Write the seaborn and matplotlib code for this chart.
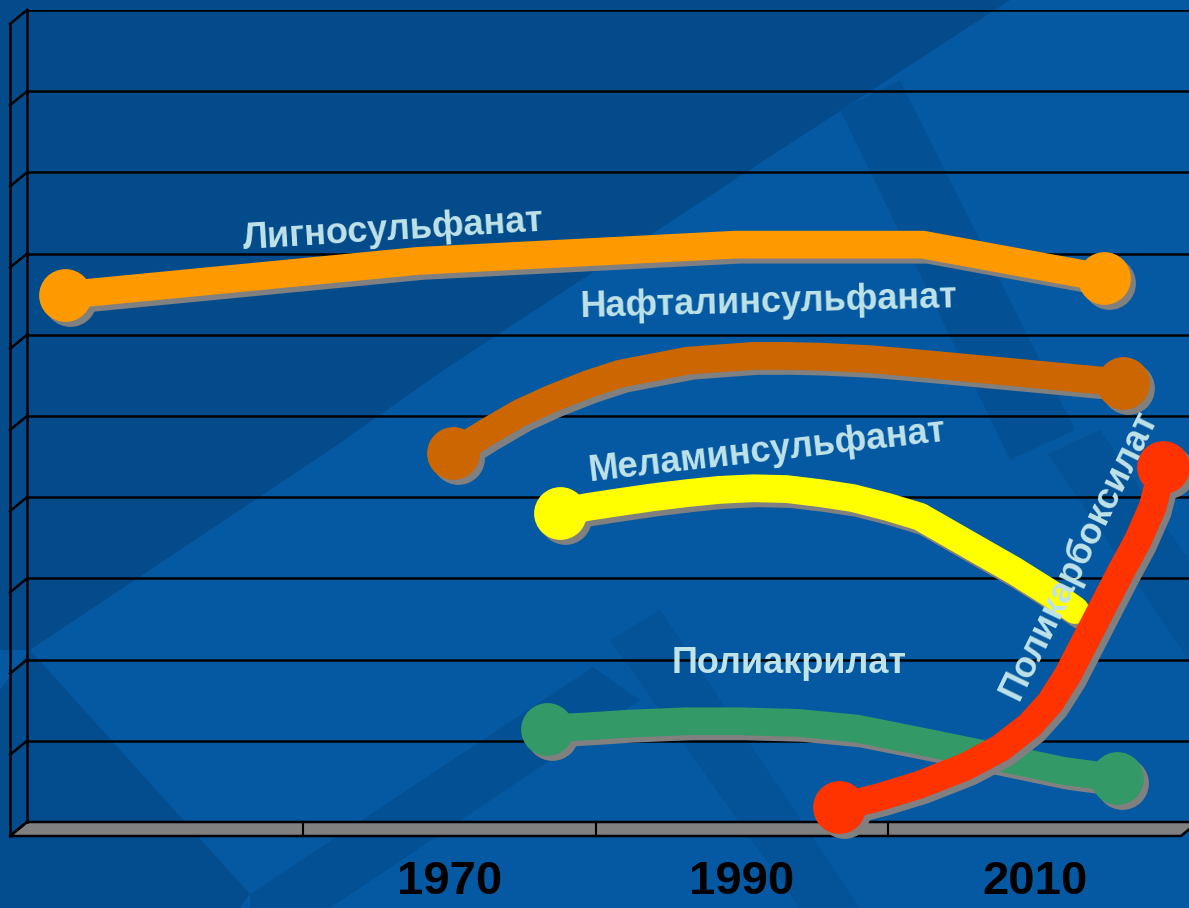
import matplotlib
matplotlib.use("Agg")
import matplotlib.pyplot as plt
import matplotlib.transforms as mtransforms
from matplotlib.patches import Polygon
import seaborn as sns

# category axis (first category has no label in the original)
cat_years = [1950, 1970, 1990, 2010]
cat_labels = ["", "1970", "1990", "2010"]

# series (year, relative level 0..10)
ligno_x = [1942.6, 1966.7, 1988.4, 2001.2, 2013.6]
ligno_y = [6.49, 6.91, 7.11, 7.11, 6.70]

nafta_x = [1969.1, 1971.4, 1973.7, 1975.9, 1978.3, 1980.5, 1982.8, 1985.1, 1987.3,
           1989.6, 1991.9, 1994.2, 1997.6, 2001.4, 2008.5, 2014.9]
nafta_y = [4.54, 4.80, 5.04, 5.22, 5.39, 5.52, 5.60, 5.68, 5.71,
           5.74, 5.74, 5.73, 5.70, 5.64, 5.52, 5.41]

melam_x = [1976.4, 1978.3, 1980.5, 1982.8, 1985.1, 1987.3, 1989.6, 1991.9, 1994.2,
           1996.4, 1998.8, 2001.0, 2004.0, 2007.4, 2010.4, 2011.6]
melam_y = [3.81, 3.88, 3.94, 4.00, 4.05, 4.09, 4.11, 4.10, 4.05,
           3.99, 3.88, 3.76, 3.45, 3.10, 2.76, 2.61]

polyacr_x = [1975.5, 1978.5, 1981.0, 1985.0, 1988.8, 1992.7, 1996.7, 2001.7, 2006.3, 2010.8, 2014.5]
polyacr_y = [1.15, 1.18, 1.21, 1.24, 1.24, 1.22, 1.15, 0.97, 0.80, 0.63, 0.54]

polycarb_x = [1995.5, 1998.3, 2001.0, 2004.1, 2006.5, 2008.5, 2009.9, 2011.1, 2012.3,
              2013.5, 2014.7, 2015.9, 2016.9, 2017.6]
polycarb_y = [0.18, 0.31, 0.46, 0.68, 0.91, 1.19, 1.47, 1.81, 2.23,
              2.65, 3.07, 3.47, 3.88, 4.37]

W, H = 1189, 908
DARK = "#034b8a"
LIGHT = "#0559a2"
TXT = "#bfe3e8"

fig = plt.figure(figsize=(W / 100, H / 100), dpi=100)
fig.patch.set_facecolor(LIGHT)

# background + 3D frame, drawn in pixel space
bg = fig.add_axes([0, 0, 1, 1], zorder=0)
bg.set_xlim(0, W)
bg.set_ylim(H, 0)
bg.axis("off")
bg.add_patch(Polygon([(0, 0), (1010, 0), (448, 367), (330, 450), (30, 650), (0, 650)], color=DARK, lw=0))
bg.add_patch(Polygon([(840, 110), (900, 80), (1075, 430), (1010, 460)], color=DARK, lw=0, alpha=0.55))
bg.add_patch(Polygon([(0, 690), (30, 650), (250, 894), (240, 908), (0, 908)], color=DARK, lw=0, alpha=0.8))
bg.add_patch(Polygon([(250, 894), (593, 667), (640, 700), (330, 908), (250, 908)], color=DARK, lw=0, alpha=0.55))
bg.add_patch(Polygon([(610, 640), (660, 610), (860, 908), (800, 908)], color=DARK, lw=0, alpha=0.45))
bg.add_patch(Polygon([(1048, 454), (1100, 430), (1189, 560), (1189, 660)], color=DARK, lw=0, alpha=0.45))

L, R, T, B = 27, 1198, 10, 822
DX, DY = 17, 14
step = (B - T) / 10
bg.plot([L, L], [T, B], color="black", lw=1.8)
bg.plot([L - DX, L - DX], [T + DY, B + DY], color="black", lw=1.8)
for k in range(11):
    yk = T + k * step
    bg.plot([L, L - DX], [yk, yk + DY], color="black", lw=1.8)
bg.add_patch(Polygon([(L, B), (R, B), (R - DX, B + DY), (L - DX, B + DY)],
                     facecolor="#808080", edgecolor="black", lw=1.8))
cat_w = (R - L) / 4
for j in range(1, 4):
    xj = L - DX + j * cat_w
    bg.plot([xj, xj], [B, B + DY], color="black", lw=1.5)

# chart plane
ax = fig.add_axes([L / W, (H - B) / H, (R - L) / W, (B - T) / H], zorder=1)
ax.patch.set_alpha(0)
ax.set_xlim(1940, 2020)
ax.set_ylim(0, 10)
ax.set_yticks(range(11))
ax.set_yticklabels([])
ax.grid(axis="y", color="black", lw=1.8)
ax.grid(axis="x", visible=False)
ax.set_axisbelow(True)
for s in ax.spines.values():
    s.set_visible(False)
ax.tick_params(axis="y", length=0)
ax.tick_params(axis="x", length=0, pad=27)
ax.set_xticks(cat_years)
ax.set_xticklabels(cat_labels, fontsize=34, fontweight="bold",
                   family=["Liberation Sans Narrow", "Liberation Sans"], color="black")
shift = mtransforms.ScaledTranslation(-DX / 100, 0, fig.dpi_scale_trans)
for lab in ax.get_xticklabels():
    lab.set_transform(lab.get_transform() + shift)

shadow_tr = mtransforms.offset_copy(ax.transData, fig, x=5, y=-5, units="dots")

series = [
    (ligno_x, ligno_y, "#ff9900", True),
    (nafta_x, nafta_y, "#cc6600", True),
    (melam_x, melam_y, "#ffff00", False),
    (polyacr_x, polyacr_y, "#339966", True),
    (polycarb_x, polycarb_y, "#ff3300", True),
]
for xs, ys, col, both in series:
    ends = [0, len(xs) - 1] if both else [0]
    common = dict(x=xs, y=ys, sort=False, estimator=None, lw=20, marker="o",
                  markersize=38, markeredgewidth=0, markevery=ends,
                  solid_capstyle="round", solid_joinstyle="round", ax=ax)
    sns.lineplot(color="#808080", transform=shadow_tr, clip_on=False, **common)
    sns.lineplot(color=col, clip_on=False, **common)

tk = dict(color=TXT, fontsize=26, fontweight="bold", family="Liberation Sans",
          ha="center", va="center", rotation_mode="anchor", zorder=10)
ax.text(1965.0, 7.29, "Лигносульфанат", rotation=3.5, **tk)
ax.text(1990.7, 6.40, "Нафталинсульфанат", rotation=1.5, **tk)
ax.text(1990.6, 4.56, "Меламинсульфанат", rotation=6.5, **tk)
ax.text(1992.1, 1.95, "Полиакрилат", rotation=0, **tk)
ax.text(2011.9, 3.29, "Поликарбоксилат", rotation=64, **tk)

fig.savefig("out.png", dpi=100, facecolor=fig.get_facecolor())
